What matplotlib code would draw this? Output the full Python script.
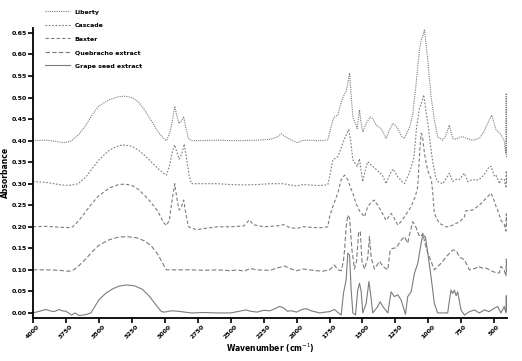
import matplotlib
matplotlib.use('Agg')
import matplotlib.pyplot as plt

# FTIR spectra (wavenumber in cm-1, absorbance with vertical offsets already included)
liberty_wn = [4000, 3900, 3820, 3773, 3720, 3697, 3650, 3600, 3550, 3500, 3420, 3350, 3300, 3250, 3200,
              3150, 3100, 3050, 3000, 2985, 2960, 2940, 2924, 2910, 2892, 2875, 2856, 2840, 2820, 2798,
              2700, 2600, 2500, 2400, 2300, 2200, 2150, 2116, 2090, 2050, 2020, 1992, 1960, 1900, 1850,
              1800, 1763, 1750, 1725, 1712, 1687, 1670, 1649, 1624, 1610, 1598, 1585, 1573, 1555, 1540,
              1523, 1510, 1498, 1472, 1442, 1420, 1396, 1358, 1321, 1295, 1270, 1250, 1232, 1200, 1182,
              1160, 1144, 1119, 1093, 1081, 1068, 1055, 1040, 1030, 1020, 1005, 980, 955, 930, 892,
              870, 841, 816, 790, 765, 740, 700, 664, 614, 580, 563, 520, 487, 450, 425, 412, 410, 408]
liberty_abs = [0.400, 0.401, 0.398, 0.395, 0.398, 0.402, 0.415, 0.435, 0.46, 0.48, 0.495, 0.502, 0.503, 0.50, 0.49,
               0.47, 0.445, 0.42, 0.402, 0.40, 0.42, 0.45, 0.48, 0.46, 0.44, 0.445, 0.455, 0.43, 0.405, 0.40,
               0.40, 0.401, 0.40, 0.40, 0.401, 0.403, 0.408, 0.416, 0.41, 0.403, 0.398, 0.395, 0.40, 0.401, 0.40,
               0.40, 0.402, 0.417, 0.448, 0.455, 0.459, 0.48, 0.50, 0.515, 0.535, 0.557, 0.50, 0.455, 0.44, 0.428,
               0.471, 0.44, 0.42, 0.44, 0.455, 0.45, 0.436, 0.428, 0.405, 0.425, 0.44, 0.435, 0.428, 0.408, 0.405,
               0.42, 0.43, 0.46, 0.533, 0.571, 0.61, 0.633, 0.645, 0.658, 0.63, 0.587, 0.502, 0.448, 0.409, 0.401,
               0.41, 0.436, 0.405, 0.403, 0.408, 0.409, 0.404, 0.401, 0.405, 0.42, 0.432, 0.459, 0.425, 0.414, 0.40, 0.37, 0.51, 0.36]

cascade_wn = [4000, 3900, 3800, 3750, 3700, 3657, 3600, 3550, 3500, 3420, 3350, 3316, 3250, 3200, 3150,
              3100, 3050, 3000, 2987, 2965, 2942, 2925, 2905, 2890, 2870, 2852, 2835, 2815, 2798, 2700,
              2600, 2500, 2400, 2300, 2200, 2100, 2050, 2000, 1950, 1900, 1850, 1800, 1763, 1750, 1725,
              1687, 1665, 1649, 1624, 1605, 1590, 1573, 1540, 1523, 1510, 1498, 1480, 1460, 1440, 1422,
              1384, 1350, 1321, 1295, 1270, 1250, 1232, 1200, 1182, 1160, 1144, 1110, 1090, 1068, 1050,
              1035, 1020, 1000, 985, 967, 945, 930, 892, 870, 841, 816, 790, 765, 727, 702,
              664, 639, 614, 580, 538, 525, 500, 487, 462, 450, 425, 412, 409, 407]
cascade_abs = [0.305, 0.303, 0.298, 0.296, 0.297, 0.30, 0.315, 0.335, 0.355, 0.378, 0.388, 0.39, 0.387, 0.378, 0.365,
               0.35, 0.335, 0.322, 0.32, 0.34, 0.375, 0.39, 0.37, 0.357, 0.37, 0.392, 0.36, 0.32, 0.30, 0.30,
               0.30, 0.298, 0.297, 0.298, 0.30, 0.30, 0.297, 0.295, 0.298, 0.297, 0.296, 0.296, 0.298, 0.316, 0.355,
               0.363, 0.38, 0.394, 0.413, 0.425, 0.40, 0.355, 0.34, 0.358, 0.33, 0.305, 0.33, 0.351, 0.345, 0.34,
               0.33, 0.32, 0.30, 0.32, 0.334, 0.325, 0.316, 0.305, 0.30, 0.315, 0.325, 0.36, 0.43, 0.475, 0.49,
               0.506, 0.47, 0.43, 0.39, 0.35, 0.315, 0.305, 0.30, 0.31, 0.324, 0.305, 0.31, 0.31, 0.324, 0.305,
               0.31, 0.308, 0.31, 0.32, 0.34, 0.34, 0.318, 0.32, 0.30, 0.31, 0.31, 0.29, 0.33, 0.30]

baxter_wn = [4000, 3900, 3800, 3720, 3697, 3650, 3600, 3550, 3500, 3420, 3350, 3303, 3250, 3200, 3150,
             3100, 3050, 3010, 2987, 2965, 2945, 2924, 2910, 2892, 2875, 2856, 2840, 2820, 2760, 2700,
             2600, 2500, 2400, 2370, 2356, 2330, 2250, 2150, 2100, 2050, 2000, 1950, 1900, 1850, 1800,
             1763, 1750, 1725, 1687, 1662, 1636, 1611, 1590, 1573, 1550, 1523, 1485, 1460, 1430, 1409,
             1371, 1321, 1283, 1260, 1232, 1200, 1182, 1131, 1100, 1081, 1065, 1055, 1045, 1030, 1005,
             977, 967, 955, 930, 917, 866, 841, 816, 790, 765, 727, 715, 664, 614, 601,
             525, 500, 487, 475, 450, 425, 412, 409, 407]
baxter_abs = [0.20, 0.201, 0.199, 0.198, 0.20, 0.215, 0.235, 0.255, 0.272, 0.29, 0.298, 0.299, 0.296, 0.287, 0.272,
              0.255, 0.235, 0.21, 0.203, 0.215, 0.26, 0.30, 0.27, 0.239, 0.245, 0.262, 0.23, 0.20, 0.193, 0.196,
              0.20, 0.20, 0.202, 0.212, 0.216, 0.205, 0.20, 0.202, 0.205, 0.198, 0.196, 0.20, 0.199, 0.198, 0.198,
              0.20, 0.223, 0.247, 0.278, 0.309, 0.32, 0.309, 0.29, 0.278, 0.255, 0.237, 0.223, 0.247, 0.258, 0.262,
              0.243, 0.215, 0.231, 0.22, 0.204, 0.215, 0.223, 0.247, 0.27, 0.293, 0.38, 0.417, 0.41, 0.37, 0.33,
              0.309, 0.278, 0.231, 0.215, 0.208, 0.20, 0.20, 0.204, 0.208, 0.211, 0.223, 0.237, 0.239, 0.25, 0.254,
              0.278, 0.26, 0.247, 0.239, 0.215, 0.206, 0.19, 0.23, 0.20]

quebracho_wn = [4000, 3900, 3800, 3740, 3717, 3690, 3650, 3600, 3550, 3500, 3420, 3350, 3290, 3220, 3150,
                3100, 3050, 3010, 2987, 2900, 2800, 2700, 2600, 2500, 2450, 2400, 2350, 2300, 2200, 2150,
                2091, 2050, 2000, 1950, 1900, 1850, 1800, 1750, 1712, 1687, 1661, 1645, 1636, 1624, 1611,
                1598, 1580, 1561, 1545, 1530, 1517, 1504, 1485, 1460, 1447, 1434, 1409, 1371, 1346, 1308,
                1290, 1270, 1245, 1207, 1182, 1157, 1144, 1119, 1093, 1073, 1055, 1043, 1025, 1005, 980,
                955, 930, 904, 866, 816, 790, 765, 727, 715, 689, 639, 626, 588, 563, 538,
                487, 462, 450, 425, 412, 409, 407]
quebracho_abs = [0.10, 0.10, 0.099, 0.097, 0.097, 0.10, 0.11, 0.125, 0.142, 0.157, 0.17, 0.176, 0.177, 0.175, 0.167,
                 0.155, 0.135, 0.112, 0.10, 0.10, 0.10, 0.099, 0.10, 0.098, 0.10, 0.097, 0.103, 0.10, 0.099, 0.104,
                 0.109, 0.103, 0.098, 0.102, 0.10, 0.098, 0.097, 0.10, 0.111, 0.10, 0.098, 0.12, 0.146, 0.20, 0.227,
                 0.22, 0.146, 0.102, 0.12, 0.185, 0.19, 0.12, 0.102, 0.128, 0.177, 0.128, 0.102, 0.12, 0.108, 0.10,
                 0.146, 0.15, 0.151, 0.169, 0.177, 0.162, 0.181, 0.212, 0.198, 0.181, 0.177, 0.185, 0.16, 0.139, 0.12,
                 0.10, 0.108, 0.115, 0.13, 0.146, 0.145, 0.13, 0.123, 0.116, 0.10, 0.104, 0.108, 0.104, 0.104, 0.10,
                 0.093, 0.093, 0.108, 0.10, 0.085, 0.125, 0.095]

grape_wn = [4000, 3950, 3900, 3870, 3840, 3800, 3780, 3750, 3720, 3707, 3680, 3650, 3600, 3560, 3530,
            3500, 3450, 3400, 3350, 3290, 3230, 3170, 3120, 3070, 3025, 3000, 2950, 2900, 2800, 2700,
            2600, 2500, 2450, 2382, 2350, 2300, 2250, 2200, 2129, 2100, 2070, 2040, 2000, 1960, 1927,
            1890, 1850, 1826, 1780, 1750, 1712, 1690, 1662, 1644, 1624, 1611, 1598, 1586, 1573, 1553,
            1536, 1523, 1510, 1498, 1472, 1451, 1439, 1422, 1384, 1366, 1346, 1308, 1283, 1258, 1232,
            1207, 1174, 1157, 1131, 1106, 1081, 1055, 1043, 1023, 1005, 980, 955, 930, 892, 854,
            840, 829, 816, 803, 790, 778, 753, 727, 689, 651, 614, 576, 540, 500, 475,
            450, 425, 412, 409, 407]
grape_abs = [0.0, 0.004, 0.008, 0.005, 0.003, 0.008, 0.005, 0.004, -0.002, -0.005, 0.0, -0.006, -0.004, 0.0, 0.015,
             0.03, 0.045, 0.055, 0.062, 0.065, 0.063, 0.055, 0.04, 0.02, 0.003, 0.002, 0.005, 0.004, 0.0, 0.001,
             0.0, 0.0, 0.003, 0.007, 0.004, 0.002, 0.006, 0.005, 0.015, 0.012, 0.004, 0.005, 0.002, 0.008, 0.01,
             0.005, 0.002, 0.0, 0.002, 0.003, 0.008, 0.002, -0.005, 0.046, 0.077, 0.139, 0.134, 0.053, 0.0, -0.005,
             0.053, 0.069, 0.05, 0.0, 0.022, 0.073, 0.045, 0.0, 0.015, 0.026, 0.015, 0.0, 0.049, 0.038, 0.042,
             0.03, -0.003, 0.038, 0.049, 0.092, 0.115, 0.162, 0.181, 0.177, 0.139, 0.084, 0.022, 0.0, 0.0, 0.0,
             0.03, 0.053, 0.045, 0.053, 0.04, 0.049, 0.007, -0.005, 0.003, 0.007, 0.0, 0.007, 0.003, 0.011, 0.015,
             0.0, 0.015, 0.0, 0.04, 0.005]

labels = ['Liberty', 'Cascade', 'Baxter', 'Quebracho extract', 'Grape seed extract']
x_ticks = [4000, 3750, 3500, 3250, 3000, 2750, 2500, 2250, 2000, 1750, 1500, 1250, 1000, 750, 500]
y_ticks = [0.00, 0.05, 0.10, 0.15, 0.20, 0.25, 0.30, 0.35, 0.40, 0.45, 0.50, 0.55, 0.60, 0.65]

fig = plt.figure(figsize=(5.22, 3.61), dpi=100)
ax = fig.add_axes([0.063, 0.12, 0.908, 0.802])

col = '#7c7c7c'
ax.plot(liberty_wn, liberty_abs, color=col, lw=0.8, ls=(0, (1, 1)), label=labels[0])
ax.plot(cascade_wn, cascade_abs, color=col, lw=0.8, ls=(0, (1.5, 1.5)), label=labels[1])
ax.plot(baxter_wn, baxter_abs, color=col, lw=0.8, ls=(0, (3, 2)), label=labels[2])
ax.plot(quebracho_wn, quebracho_abs, color=col, lw=0.8, ls=(0, (4, 2)), label=labels[3])
ax.plot(grape_wn, grape_abs, color=col, lw=0.8, ls='-', label=labels[4])

ax.set_xlim(4000, 405)
ax.set_ylim(-0.011, 0.661)
ax.set_xticks(x_ticks)
ax.set_xticklabels([str(t) for t in x_ticks], rotation=45, fontsize=4.5, fontweight='bold')
ax.set_yticks(y_ticks)
ax.set_yticklabels(['%.2f' % t for t in y_ticks], fontsize=4.5, fontweight='bold')
ax.tick_params(direction='out', length=3.5, width=1.2, pad=1)

for s in ['top', 'right']:
    ax.spines[s].set_visible(False)
for s in ['left', 'bottom']:
    ax.spines[s].set_linewidth(1.3)

ax.set_xlabel('Wavenumber (cm$^{-1}$)', fontsize=5.5, fontweight='bold', labelpad=1)
ax.set_ylabel('Absorbance', fontsize=5.5, fontweight='bold', labelpad=1)

fig.legend(loc='upper left', bbox_to_anchor=(0.075, 0.99), frameon=False,
           prop={'weight': 'bold', 'size': 4.5}, handlelength=4, labelspacing=1.3, handletextpad=0.8)

fig.savefig('out.png', dpi=100)
